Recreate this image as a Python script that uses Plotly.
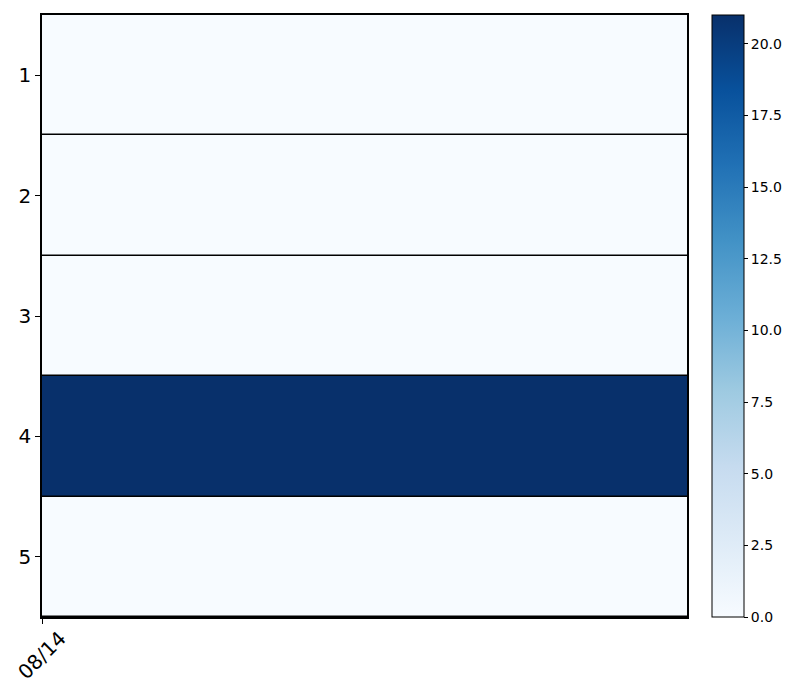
import plotly.graph_objects as go
import plotly.colors as pc

dates = ["08/14"]
rows = [1, 2, 3, 4, 5]
values = [0, 0, 0, 21, 0]  # one column per date

z = [[v] for v in values]

fig = go.Figure()
fig.add_trace(go.Heatmap(
    z=z,
    x0=0.5, dx=1,
    y=rows,
    colorscale=pc.sequential.Blues,
    zmin=0, zmax=21,
    ygap=1.5,
    colorbar=dict(
        x=1.0388, xanchor="left", xref="paper", xpad=0, ypad=0,
        y=0.5, yanchor="middle", len=1, lenmode="fraction",
        thickness=32, thicknessmode="pixels",
        outlinecolor="black", outlinewidth=1,
        ticks="outside", ticklen=4, tickcolor="black",
        tick0=0, dtick=2.5, tickformat=".1f",
        tickfont=dict(family="DejaVu Sans", size=14, color="black"),
    ),
    hoverinfo="z",
))

for i, d in enumerate(dates):
    fig.add_annotation(
        x=i, xref="x", y=0, yref="paper",
        text=d, showarrow=False, textangle=-45,
        xanchor="center", yanchor="middle", yshift=-38,
        font=dict(family="DejaVu Sans", size=20, color="black"),
    )

fig.update_layout(
    width=800, height=700,
    margin=dict(l=42, r=113, t=15, b=83, autoexpand=False),
    plot_bgcolor="black",
    paper_bgcolor="white",
    font=dict(family="DejaVu Sans", color="black"),
)
fig.update_xaxes(
    range=[0, 1], tickvals=list(range(len(dates))), ticktext=[""] * len(dates),
    ticks="outside", ticklen=5, tickcolor="black",
    showline=True, linecolor="black", linewidth=1.5, mirror=True,
    showgrid=False, zeroline=False,
)
fig.update_yaxes(
    range=[5.5, 0.5], tickvals=rows, ticktext=[str(r) for r in rows],
    ticks="outside", ticklen=5, tickcolor="black",
    tickfont=dict(size=20),
    showline=True, linecolor="black", linewidth=1.5, mirror=True,
    showgrid=False, zeroline=False,
)

fig.write_html("out.html")
